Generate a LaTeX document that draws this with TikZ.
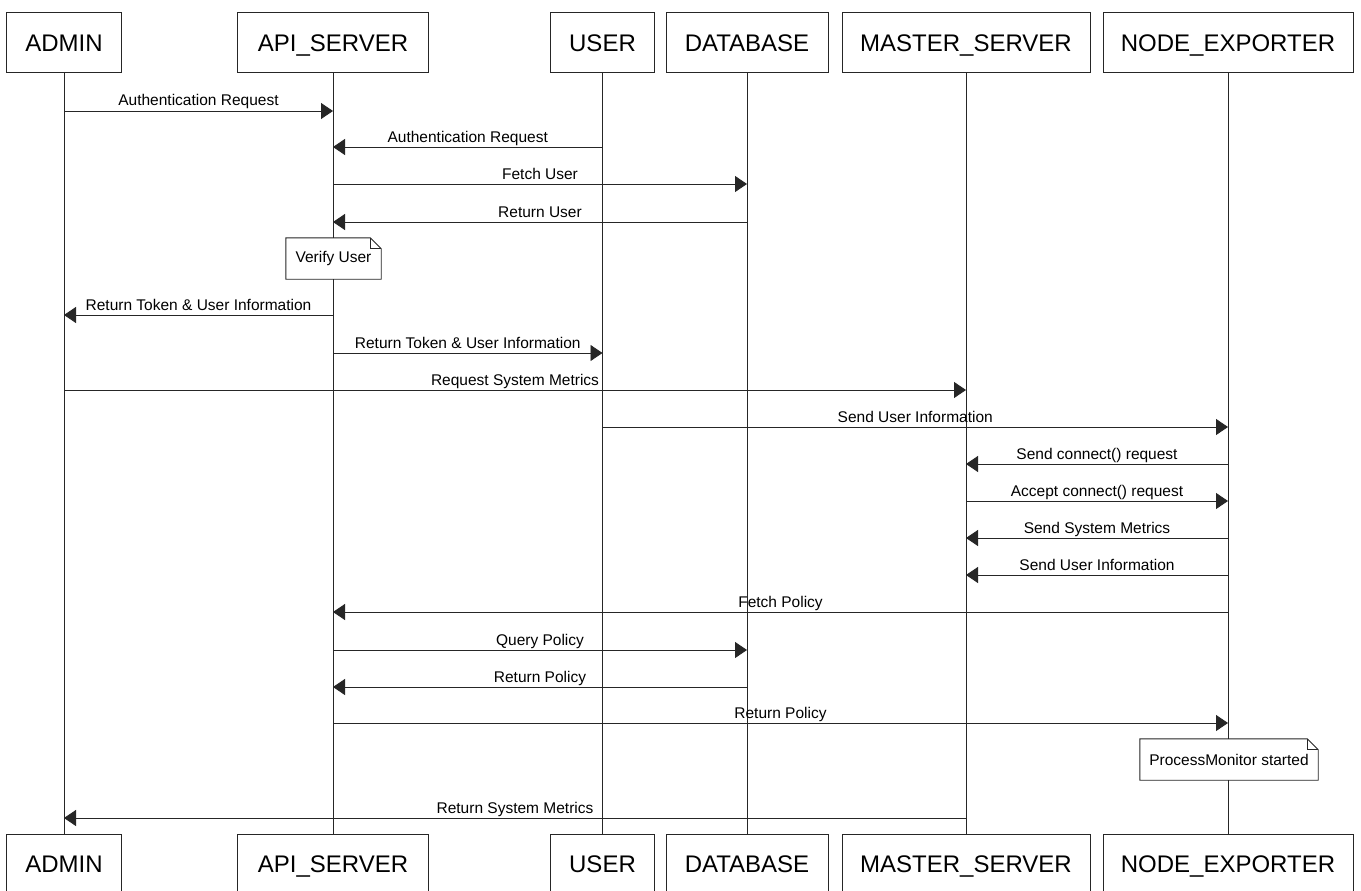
\documentclass[tikz,border=0pt]{standalone}
\usepackage{fontspec}
\setmainfont{Liberation Sans}
\usetikzlibrary{arrows.meta}
\newcommand\msgline[4]{\draw[msg] (#1T |- 0,#3) -- node[lbl]{#4} (#2T |- 0,#3);}
\newcommand\notefold[1]{%
  \draw[noteline] (#1.south west) -- (#1.north west) -- ([xshift=-11pt]#1.north east) -- ([yshift=-11pt]#1.north east) -- (#1.south east) -- cycle;
  \draw[noteline] ([xshift=-11pt]#1.north east) -- ([xshift=-11pt,yshift=-11pt]#1.north east) -- ([yshift=-11pt]#1.north east);}
\begin{document}
\begin{tikzpicture}[x=1pt,y=-1pt,
  part/.style={draw=black!85, line width=1pt, fill=white, minimum height=60pt, inner sep=0pt, text height=17pt, text depth=0pt, font=\fontsize{24}{28}\selectfont},
  life/.style={line width=0.9pt, draw=black!85},
  msg/.style={line width=0.9pt, draw=black!85, -{Triangle[length=12pt,width=16pt]}},
  lbl/.style={font=\fontsize{15.5}{18}\selectfont, anchor=base, yshift=5pt, inner sep=0pt},
  notetext/.style={fill=white, inner sep=0pt, font=\fontsize{15.5}{18}\selectfont},
  noteline/.style={line width=0.9pt, draw=black!85}]
\clip (0,0) rectangle (1361,891);
\fill[white] (0,0) rectangle (1361,891);
% participants
\foreach \n/\x/\w/\t in {admin/64/115/ADMIN, api/333/191/API\_SERVER, user/602.5/104/USER, db/747/162/DATABASE, master/966/248/MASTER\_SERVER, node/1228/250/NODE\_EXPORTER}{
  \node[part, minimum width=\w pt] (\n T) at (\x,43) {\t};
  \node[part, minimum width=\w pt] (\n B) at (\x,864) {\t};
  \draw[life] (\n T) -- (\n B);
}
% messages
\msgline{admin}{api}{111}{Authentication Request}
\msgline{user}{api}{147}{Authentication Request}
\msgline{api}{db}{184}{Fetch User}
\msgline{db}{api}{222}{Return User}
\node[notetext, minimum width=95pt, minimum height=41pt] (verify) at (333.5,258.5) {Verify User};
\notefold{verify}
\msgline{api}{admin}{315}{Return Token \& User Information}
\msgline{api}{user}{353}{Return Token \& User Information}
\msgline{admin}{master}{390}{Request System Metrics}
\msgline{user}{node}{427}{Send User Information}
\msgline{node}{master}{464}{Send connect() request}
\msgline{master}{node}{501}{Accept connect() request}
\msgline{node}{master}{538}{Send System Metrics}
\msgline{node}{master}{575}{Send User Information}
\msgline{node}{api}{612}{Fetch Policy}
\msgline{api}{db}{650}{Query Policy}
\msgline{db}{api}{687}{Return Policy}
\msgline{api}{node}{723}{Return Policy}
\node[notetext, minimum width=178pt, minimum height=41pt] (pm) at (1229,759.5) {ProcessMonitor started};
\notefold{pm}
\msgline{master}{admin}{818}{Return System Metrics}
\end{tikzpicture}
\end{document}
